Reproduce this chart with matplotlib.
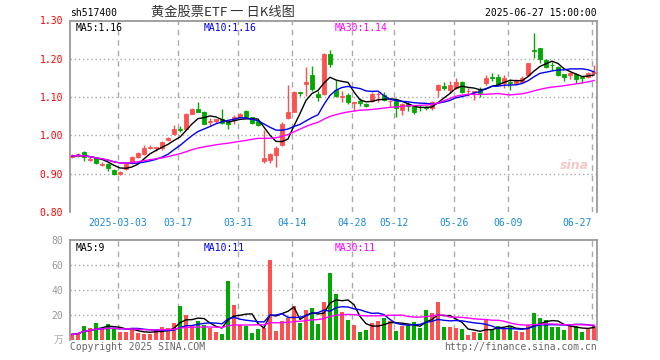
import matplotlib
matplotlib.use('Agg')
import matplotlib.pyplot as plt
import numpy as np
import pandas as pd

plt.rcParams['font.family'] = ['DejaVu Sans Mono', 'Noto Sans CJK SC']

# daily K data, 88 trading days (2025-02-19 .. 2025-06-27)
opens = [0.944, 0.946, 0.957, 0.937, 0.940, 0.924, 0.926, 0.910, 0.899, 0.911,
         0.927, 0.943, 0.951, 0.968, 0.967, 0.966, 0.989, 1.004, 1.017, 1.016,
         1.056, 1.070, 1.062, 1.035, 1.037, 1.042, 1.036, 1.040, 1.049, 1.064,
         1.047, 1.038, 0.933, 0.936, 0.949, 0.975, 1.045, 1.062, 1.113, 1.134,
         1.158, 1.108, 1.108, 1.212, 1.118, 1.100, 1.105, 1.084, 1.091, 1.082,
         1.091, 1.107, 1.105, 1.089, 1.090, 1.066, 1.082, 1.077, 1.075, 1.074,
         1.071, 1.118, 1.129, 1.118, 1.123, 1.139, 1.115, 1.113, 1.118, 1.136,
         1.152, 1.152, 1.136, 1.139, 1.136, 1.140, 1.158, 1.222, 1.227, 1.197,
         1.185, 1.179, 1.160, 1.158, 1.160, 1.153, 1.153, 1.164]
closes = [0.946, 0.950, 0.943, 0.939, 0.929, 0.926, 0.916, 0.899, 0.905, 0.925,
          0.943, 0.953, 0.967, 0.971, 0.970, 0.983, 0.992, 1.018, 1.015, 1.055,
          1.069, 1.062, 1.031, 1.037, 1.042, 1.033, 1.030, 1.049, 1.055, 1.049,
          1.033, 1.028, 0.942, 0.951, 0.968, 1.030, 1.062, 1.114, 1.111, 1.140,
          1.120, 1.101, 1.212, 1.186, 1.104, 1.102, 1.088, 1.086, 1.085, 1.077,
          1.108, 1.109, 1.092, 1.091, 1.071, 1.082, 1.077, 1.062, 1.073, 1.072,
          1.088, 1.132, 1.124, 1.132, 1.140, 1.114, 1.117, 1.115, 1.110, 1.149,
          1.150, 1.134, 1.149, 1.137, 1.145, 1.149, 1.188, 1.220, 1.199, 1.179,
          1.183, 1.158, 1.152, 1.162, 1.146, 1.151, 1.164, 1.166]
highs = [0.951, 0.953, 0.959, 0.944, 0.942, 0.930, 0.927, 0.911, 0.906, 0.927,
         0.945, 0.956, 0.975, 0.975, 0.971, 0.985, 0.995, 1.026, 1.025, 1.058,
         1.072, 1.087, 1.063, 1.045, 1.043, 1.070, 1.037, 1.052, 1.058, 1.066,
         1.048, 1.040, 1.015, 0.955, 0.972, 1.034, 1.132, 1.116, 1.114, 1.178,
         1.180, 1.116, 1.214, 1.223, 1.145, 1.116, 1.110, 1.088, 1.097, 1.084,
         1.113, 1.114, 1.114, 1.092, 1.092, 1.084, 1.087, 1.079, 1.079, 1.076,
         1.090, 1.134, 1.139, 1.142, 1.150, 1.142, 1.123, 1.117, 1.127, 1.158,
         1.163, 1.161, 1.158, 1.146, 1.147, 1.154, 1.190, 1.267, 1.228, 1.200,
         1.191, 1.180, 1.161, 1.166, 1.162, 1.154, 1.166, 1.184]
lows = [0.940, 0.944, 0.934, 0.933, 0.926, 0.920, 0.908, 0.896, 0.897, 0.909,
        0.925, 0.940, 0.950, 0.964, 0.960, 0.962, 0.986, 1.000, 1.008, 1.014,
        1.055, 1.060, 1.030, 1.025, 1.033, 1.030, 1.016, 1.030, 1.046, 1.046,
        1.031, 1.025, 0.929, 0.929, 0.917, 0.972, 1.043, 1.060, 1.102, 1.103,
        1.115, 1.091, 1.106, 1.178, 1.101, 1.088, 1.082, 1.064, 1.076, 1.073,
        1.088, 1.088, 1.090, 1.075, 1.049, 1.054, 1.064, 1.057, 1.065, 1.066,
        1.067, 1.100, 1.118, 1.110, 1.120, 1.112, 1.104, 1.093, 1.101, 1.131,
        1.143, 1.131, 1.125, 1.118, 1.134, 1.136, 1.156, 1.201, 1.190, 1.175,
        1.170, 1.155, 1.143, 1.146, 1.136, 1.136, 1.150, 1.160]
volumes = [4.5, 5.5, 11.2, 9.3, 13.3, 9.3, 12.5, 9.0, 6.7, 6.7,
           9.3, 5.3, 4.8, 4.8, 8.8, 10.4, 9.3, 13.6, 27.2, 20.0,
           11.5, 15.2, 12.0, 9.3, 6.7, 4.8, 47.2, 28.0, 12.0, 11.5,
           5.9, 8.8, 9.9, 64.0, 7.5, 15.5, 18.0, 27.0, 14.0, 24.0,
           26.0, 13.0, 30.7, 54.0, 36.8, 22.7, 16.0, 12.0, 6.7, 8.0,
           13.3, 15.5, 17.9, 15.2, 7.2, 11.5, 12.0, 14.4, 9.9, 24.0,
           21.9, 30.7, 10.7, 10.7, 9.9, 8.8, 4.0, 6.7, 5.3, 16.5,
           8.8, 11.2, 9.3, 10.7, 7.2, 6.4, 12.0, 21.6, 17.6, 16.0,
           10.4, 10.4, 8.0, 11.5, 11.5, 6.4, 9.0, 11.5]
date_labels = ['2025-03-03', '03-17', '03-31', '04-14', '04-28',
               '05-12', '05-26', '06-09', '06-27']
date_index = [8, 18, 28, 37, 47, 54, 64, 73, 87]
# legend values as printed on the chart
price_ma_labels = ['MA5:1.16', 'MA10:1.16', 'MA30:1.14']
vol_ma_labels = ['MA5:9', 'MA10:11', 'MA30:11']

RED = '#ff5050'
GREEN = '#00a800'
GRID = '#aaaaaa'
FRAME = '#999999'
MA_PERIODS = [5, 10, 30]
MA_COLORS = ['black', '#0000ee', '#ff00ff']
LABEL_X = [0.01, 134 / 527, 265 / 527]

x = np.arange(len(closes))
o = np.array(opens)
c = np.array(closes)
colors = [RED if cc >= oo else GREEN for oo, cc in zip(o, c)]
grid_x = [i - 0.33 for i in date_index]

fig = plt.figure(figsize=(6.6, 3.6), dpi=100)
W, H = 660.0, 360.0
ax = fig.add_axes([70 / W, 1 - 212 / H, 527 / W, 191.5 / H])
axv = fig.add_axes([70 / W, 1 - 340 / H, 527 / W, 100 / H])

for a in (ax, axv):
    a.set_xlim(-0.33, 87.5)
    for s in ('top', 'left', 'right'):
        a.spines[s].set_color(FRAME)
        a.spines[s].set_linewidth(1.3)
    a.spines['bottom'].set_visible(False)
    for gx in grid_x:
        a.axvline(gx, color=GRID, linestyle=(0, (4, 3.5)), linewidth=1, zorder=0)
    a.tick_params(length=0)

# --- price panel ---
ax.set_ylim(0.80, 1.30)
for lv in [0.9, 1.0, 1.1, 1.2]:
    ax.axhline(lv, color=GRID, linestyle=(0, (1, 2)), linewidth=1, zorder=0)
ax.vlines(x, lows, highs, colors=colors, linewidth=1, zorder=2)
ax.bar(x, np.abs(c - o), bottom=np.minimum(o, c), width=0.75,
       color=colors, edgecolor=colors, linewidth=0.6, zorder=3)

close_s = pd.Series(closes)
for n, col in zip(MA_PERIODS, MA_COLORS):
    ax.plot(x, close_s.rolling(n, min_periods=1).mean(), color=col,
            linewidth=1, zorder=4)

yt = [0.8, 0.9, 1.0, 1.1, 1.2, 1.3]
ax.set_yticks(yt)
ax.set_yticklabels(['%.2f' % v for v in yt], color='red', fontsize=7)
ax.tick_params(axis='y', pad=5)
ax.set_xticks(grid_x)
ax.set_xticklabels(date_labels, color='#1a8ad4', fontsize=7)
ax.tick_params(axis='x', pad=4)
ax.get_xticklabels()[-1].set_ha('right')

for lx, txt, col in zip(LABEL_X, price_ma_labels, MA_COLORS):
    ax.text(lx, 0.985, txt, transform=ax.transAxes, fontsize=7,
            color=col, va='top')
ax.text(0.985, 0.245, 'sina', transform=ax.transAxes, fontsize=9,
        color='#f5c8c8', style='italic', fontweight='bold', ha='right',
        va='center', family='DejaVu Sans')

# --- volume panel ---
axv.set_ylim(0, 80)
for lv in [20, 40, 60]:
    axv.axhline(lv, color=GRID, linestyle=(0, (1, 2)), linewidth=1, zorder=0)
axv.bar(x, volumes, width=0.8, color=colors, linewidth=0, zorder=2)
vol_s = pd.Series(volumes)
for n, col in zip(MA_PERIODS, MA_COLORS):
    axv.plot(x, vol_s.rolling(n, min_periods=1).mean(), color=col,
             linewidth=1, zorder=4)
axv.set_yticks([20, 40, 60, 80])
axv.set_yticklabels(['20', '40', '60', '80'], color='#999999', fontsize=7)
axv.tick_params(axis='y', pad=5)
axv.set_xticks([])
for lx, txt, col in zip(LABEL_X, vol_ma_labels, MA_COLORS):
    axv.text(lx, 0.97, txt, transform=axv.transAxes, fontsize=7,
             color=col, va='top')

# --- header / footer ---
fig.text(70 / W, 1 - 13 / H, 'sh517400', fontsize=7, color='black', va='center')
fig.text(223 / W, 1 - 12 / H, '黄金股票ETF 一 日K线图', fontsize=9.5,
         color='#333333', ha='center', va='center',
         family=['Noto Sans CJK SC', 'DejaVu Sans'])
fig.text(597 / W, 1 - 13 / H, '2025-06-27 15:00:00', fontsize=7,
         color='black', ha='right', va='center')
fig.text(63 / W, 1 - 340 / H, '万', fontsize=7, color='#aaaaaa',
         ha='right', va='center', family=['Noto Sans CJK SC'])
fig.text(70 / W, 1 - 347 / H, 'Copyright 2025 SINA.COM', fontsize=7,
         color='#666666', va='center')
fig.text(597 / W, 1 - 347 / H, 'http://finance.sina.com.cn', fontsize=7,
         color='#666666', ha='right', va='center')

fig.savefig('out.png', dpi=100, facecolor='white')
